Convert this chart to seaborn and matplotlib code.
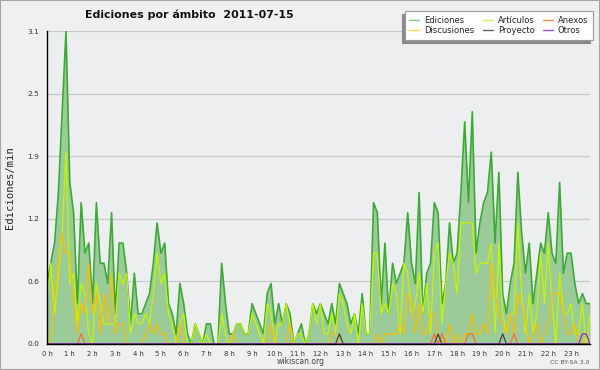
import numpy as np
import pandas as pd
import matplotlib
matplotlib.use("Agg")
import matplotlib.pyplot as plt
from matplotlib.lines import Line2D
from matplotlib.patches import Rectangle
import seaborn as sns

# ---- data (edits per minute, 10-minute buckets, 2011-07-15) ----
tiempo_min = list(range(0, 1440, 10))
hour_labels = [f"{h} h" for h in range(24)]
ytick_vals = [0.0, 0.62, 1.24, 1.86, 2.48, 3.1]
ytick_labels = ["0.0", "0.6", "1.2", "1.9", "2.5", "3.1"]

ediciones = [
    0.6, 0.8, 1.0, 1.5, 2.3, 3.1, 1.6, 1.3, 0.4, 1.4, 0.9, 1.0, 0.4, 1.4, 0.8, 0.8, 0.6, 1.3, 0.3, 1.0,
    1.0, 0.7, 0.2, 0.7, 0.3, 0.3, 0.4, 0.5, 0.8, 1.2, 0.9, 1.0, 0.4, 0.3, 0.1, 0.6, 0.4, 0.1, 0.0, 0.2,
    0.1, 0.0, 0.2, 0.2, 0.0, 0.0, 0.8, 0.4, 0.1, 0.1, 0.2, 0.2, 0.1, 0.1, 0.4, 0.3, 0.2, 0.1, 0.5, 0.6,
    0.2, 0.4, 0.2, 0.4, 0.3, 0.0, 0.1, 0.2, 0.0, 0.1, 0.4, 0.3, 0.4, 0.3, 0.2, 0.4, 0.2, 0.6, 0.5, 0.4,
    0.2, 0.3, 0.1, 0.5, 0.1, 0.1, 1.4, 1.3, 0.4, 1.0, 0.3, 0.8, 0.6, 0.7, 0.8, 1.3, 0.8, 0.6, 1.5, 0.3,
    0.7, 0.8, 1.4, 1.3, 0.4, 0.6, 1.2, 0.8, 0.9, 1.5, 2.2, 1.4, 2.3, 0.9, 1.2, 1.4, 1.5, 1.9, 1.0, 1.7,
    0.5, 0.3, 0.6, 0.8, 1.7, 1.1, 0.7, 1.0, 0.4, 0.7, 1.0, 0.9, 1.3, 0.9, 0.8, 1.6, 0.7, 0.9, 0.9, 0.6,
    0.4, 0.5, 0.4, 0.4,
]
articulos = [
    0.4, 0.8, 0.3, 0.7, 1.1, 1.9, 0.6, 0.7, 0.2, 0.6, 0.5, 0.1, 0.0, 0.6, 0.4, 0.2, 0.2, 0.2, 0.2, 0.7,
    0.6, 0.7, 0.1, 0.3, 0.2, 0.2, 0.3, 0.2, 0.5, 0.9, 0.6, 0.7, 0.3, 0.2, 0.0, 0.2, 0.3, 0.0, 0.0, 0.2,
    0.1, 0.0, 0.1, 0.0, 0.0, 0.0, 0.3, 0.1, 0.0, 0.1, 0.2, 0.2, 0.1, 0.1, 0.3, 0.2, 0.1, 0.0, 0.4, 0.3,
    0.0, 0.2, 0.2, 0.4, 0.2, 0.0, 0.1, 0.1, 0.0, 0.1, 0.4, 0.2, 0.4, 0.1, 0.1, 0.3, 0.1, 0.5, 0.4, 0.2,
    0.1, 0.3, 0.0, 0.4, 0.1, 0.1, 0.9, 0.9, 0.3, 0.4, 0.3, 0.6, 0.5, 0.1, 0.8, 0.7, 0.3, 0.4, 0.7, 0.3,
    0.6, 0.1, 0.9, 1.0, 0.2, 0.6, 0.9, 0.8, 0.5, 1.2, 1.2, 1.2, 1.2, 0.7, 0.8, 0.8, 0.8, 1.0, 0.1, 1.0,
    0.3, 0.1, 0.3, 0.3, 1.2, 0.5, 0.1, 0.5, 0.1, 0.3, 0.9, 0.4, 1.0, 0.4, 0.0, 0.7, 0.3, 0.3, 0.4, 0.1,
    0.1, 0.4, 0.0, 0.3,
]
discusiones = [
    0.0, 0.0, 0.5, 0.8, 1.1, 0.9, 0.9, 0.4, 0.1, 0.4, 0.3, 0.8, 0.3, 0.5, 0.1, 0.5, 0.2, 0.7, 0.1, 0.2,
    0.2, 0.0, 0.0, 0.0, 0.0, 0.0, 0.1, 0.2, 0.1, 0.2, 0.1, 0.1, 0.0, 0.0, 0.0, 0.2, 0.0, 0.0, 0.0, 0.0,
    0.0, 0.0, 0.0, 0.0, 0.0, 0.0, 0.0, 0.0, 0.0, 0.1, 0.0, 0.0, 0.0, 0.0, 0.0, 0.0, 0.0, 0.0, 0.0, 0.2,
    0.0, 0.0, 0.0, 0.0, 0.2, 0.0, 0.0, 0.0, 0.0, 0.0, 0.0, 0.0, 0.0, 0.0, 0.0, 0.1, 0.1, 0.0, 0.0, 0.0,
    0.0, 0.0, 0.0, 0.0, 0.0, 0.0, 0.0, 0.1, 0.0, 0.1, 0.1, 0.1, 0.1, 0.2, 0.1, 0.5, 0.4, 0.1, 0.4, 0.1,
    0.1, 0.3, 0.3, 0.1, 0.0, 0.0, 0.2, 0.0, 0.1, 0.0, 0.1, 0.1, 0.3, 0.1, 0.1, 0.2, 0.1, 0.8, 0.5, 0.3,
    0.2, 0.1, 0.3, 0.1, 0.5, 0.4, 0.2, 0.0, 0.1, 0.2, 0.0, 0.1, 0.2, 0.5, 0.5, 0.5, 0.3, 0.1, 0.1, 0.2,
    0.0, 0.0, 0.1, 0.0,
]
anexos = [
    0.0, 0.0, 0.0, 0.0, 0.0, 0.0, 0.0, 0.0, 0.0, 0.1, 0.0, 0.0, 0.0, 0.0, 0.0, 0.0, 0.0, 0.0, 0.0, 0.0,
    0.0, 0.0, 0.0, 0.0, 0.0, 0.0, 0.0, 0.0, 0.0, 0.0, 0.0, 0.0, 0.0, 0.0, 0.0, 0.0, 0.0, 0.0, 0.0, 0.0,
    0.0, 0.0, 0.0, 0.0, 0.0, 0.0, 0.0, 0.0, 0.0, 0.0, 0.0, 0.0, 0.0, 0.0, 0.0, 0.0, 0.0, 0.0, 0.0, 0.0,
    0.0, 0.0, 0.0, 0.0, 0.0, 0.0, 0.0, 0.0, 0.0, 0.0, 0.0, 0.0, 0.0, 0.0, 0.0, 0.0, 0.0, 0.0, 0.0, 0.0,
    0.0, 0.0, 0.0, 0.0, 0.0, 0.0, 0.0, 0.0, 0.0, 0.0, 0.0, 0.0, 0.0, 0.0, 0.0, 0.0, 0.0, 0.0, 0.0, 0.0,
    0.0, 0.0, 0.1, 0.0, 0.1, 0.0, 0.0, 0.0, 0.0, 0.0, 0.0, 0.1, 0.1, 0.0, 0.0, 0.0, 0.0, 0.0, 0.0, 0.0,
    0.0, 0.0, 0.0, 0.1, 0.0, 0.0, 0.0, 0.0, 0.0, 0.0, 0.0, 0.0, 0.0, 0.0, 0.0, 0.0, 0.0, 0.0, 0.0, 0.0,
    0.0, 0.0, 0.0, 0.0,
]
proyecto = [
    0.0, 0.0, 0.0, 0.0, 0.0, 0.0, 0.0, 0.0, 0.0, 0.0, 0.0, 0.0, 0.0, 0.0, 0.0, 0.0, 0.0, 0.0, 0.0, 0.0,
    0.0, 0.0, 0.0, 0.0, 0.0, 0.0, 0.0, 0.0, 0.0, 0.0, 0.0, 0.0, 0.0, 0.0, 0.0, 0.0, 0.0, 0.0, 0.0, 0.0,
    0.0, 0.0, 0.0, 0.0, 0.0, 0.0, 0.0, 0.0, 0.0, 0.0, 0.0, 0.0, 0.0, 0.0, 0.0, 0.0, 0.0, 0.0, 0.0, 0.0,
    0.0, 0.0, 0.0, 0.0, 0.0, 0.0, 0.0, 0.0, 0.0, 0.0, 0.0, 0.0, 0.0, 0.0, 0.0, 0.0, 0.0, 0.1, 0.0, 0.0,
    0.0, 0.0, 0.0, 0.0, 0.0, 0.0, 0.0, 0.0, 0.0, 0.0, 0.0, 0.0, 0.0, 0.0, 0.0, 0.0, 0.0, 0.0, 0.0, 0.0,
    0.0, 0.0, 0.0, 0.1, 0.0, 0.0, 0.0, 0.0, 0.0, 0.0, 0.0, 0.0, 0.0, 0.0, 0.0, 0.0, 0.0, 0.0, 0.0, 0.0,
    0.1, 0.0, 0.0, 0.0, 0.0, 0.0, 0.0, 0.0, 0.0, 0.0, 0.0, 0.0, 0.0, 0.0, 0.0, 0.0, 0.0, 0.0, 0.0, 0.0,
    0.0, 0.0, 0.0, 0.0,
]
otros = [
    0.0, 0.0, 0.0, 0.0, 0.0, 0.0, 0.0, 0.0, 0.0, 0.0, 0.0, 0.0, 0.0, 0.0, 0.0, 0.0, 0.0, 0.0, 0.0, 0.0,
    0.0, 0.0, 0.0, 0.0, 0.0, 0.0, 0.0, 0.0, 0.0, 0.0, 0.0, 0.0, 0.0, 0.0, 0.0, 0.0, 0.0, 0.0, 0.0, 0.0,
    0.0, 0.0, 0.0, 0.0, 0.0, 0.0, 0.0, 0.0, 0.0, 0.0, 0.0, 0.0, 0.0, 0.0, 0.0, 0.0, 0.0, 0.0, 0.0, 0.0,
    0.0, 0.0, 0.0, 0.0, 0.0, 0.0, 0.0, 0.0, 0.0, 0.0, 0.0, 0.0, 0.0, 0.0, 0.0, 0.0, 0.0, 0.0, 0.0, 0.0,
    0.0, 0.0, 0.0, 0.0, 0.0, 0.0, 0.0, 0.0, 0.0, 0.0, 0.0, 0.0, 0.0, 0.0, 0.0, 0.0, 0.0, 0.0, 0.0, 0.0,
    0.0, 0.0, 0.0, 0.0, 0.0, 0.0, 0.0, 0.0, 0.0, 0.0, 0.0, 0.0, 0.0, 0.0, 0.0, 0.0, 0.0, 0.0, 0.0, 0.0,
    0.0, 0.0, 0.0, 0.0, 0.0, 0.0, 0.0, 0.0, 0.0, 0.0, 0.0, 0.0, 0.0, 0.0, 0.0, 0.0, 0.0, 0.0, 0.0, 0.0,
    0.0, 0.1, 0.1, 0.0,
]

series = {
    "Ediciones": ediciones,
    "Artículos": articulos,
    "Anexos": anexos,
    "Discusiones": discusiones,
    "Proyecto": proyecto,
    "Otros": otros,
}
colors = {
    "Ediciones": "#3daa35",
    "Artículos": "#c4f500",
    "Anexos": "#ff6a28",
    "Discusiones": "#f7c000",
    "Proyecto": "#444444",
    "Otros": "#8a2be2",
}
legend_colors = {
    "Ediciones": "#88c888",
    "Artículos": "#d4f060",
    "Anexos": "#ff8a55",
    "Discusiones": "#ffd850",
    "Proyecto": "#606060",
    "Otros": "#9a50ee",
}

df = pd.DataFrame({"t": np.array(tiempo_min) / 60.0})
for k, v in series.items():
    df[k] = v
long = df.melt(id_vars="t", var_name="serie", value_name="v")

# ---- figure ----
sns.set_style("white")
plt.rcParams["font.family"] = ["DejaVu Sans"]

W, H = 600, 370
fig = plt.figure(figsize=(6, 3.7), dpi=100, facecolor="#f0f0f0")
x0, x1, y0, y1 = 47, 590, 31, 344
ax = fig.add_axes([x0 / W, 1 - y1 / H, (x1 - x0) / W, (y1 - y0) / H])
ax.set_facecolor("#eceef0")

# area under Ediciones
ax.fill_between(df["t"], 0, df["Ediciones"], color="#9ccb9a", lw=0, zorder=2)

draw_order = ["Ediciones", "Artículos", "Discusiones", "Anexos", "Proyecto", "Otros"]
for z, name in enumerate(draw_order):
    sub = long[long["serie"] == name]
    if name != "Ediciones" and sub["v"].max() == 0:
        continue
    sns.lineplot(data=sub, x="t", y="v", ax=ax, color=colors[name],
                 lw=1.2 if name == "Ediciones" else 0.9, zorder=3 + z,
                 legend=False, estimator=None)

ax.set_xlim(0, tiempo_min[-1] / 60.0)
ax.set_ylim(0, 3.1)
ax.set_xlabel("")
ax.set_ylabel("")

ax.set_xticks(range(24))
ax.set_xticklabels(hour_labels)
ax.set_xticks(np.array(tiempo_min) / 60.0, minor=True)
ax.set_yticks(ytick_vals)
ax.set_yticklabels(ytick_labels)
ax.set_yticks(np.arange(0, 3.1001, 0.155), minor=True)

ax.tick_params(axis="x", which="major", length=4, width=0.8, pad=1.0,
               labelsize=4.9, colors="black", direction="out")
ax.tick_params(axis="x", which="minor", length=3, width=0.8, direction="out")
ax.tick_params(axis="y", which="major", length=5, width=0.8, pad=0.8,
               labelsize=5.3, colors="black", direction="out")
ax.tick_params(axis="y", which="minor", length=3, width=0.8, direction="out")
for lab in ax.get_yticklabels() + ax.get_xticklabels():
    lab.set_color("#333333")

ax.yaxis.grid(True, which="major", color="#c9c9c9", lw=0.9, zorder=1)
ax.xaxis.grid(False)
ax.set_axisbelow(True)
for s in ["top", "right"]:
    ax.spines[s].set_visible(False)
for s in ["left", "bottom"]:
    ax.spines[s].set_color("black")
    ax.spines[s].set_linewidth(1.0)
    ax.spines[s].set_zorder(10)

# texts
fig.text(85 / W, 1 - 18.5 / H, "Ediciones por ámbito  2011-07-15", ha="left",
         va="baseline", fontsize=7.9, fontweight="bold", color="#111111")
fig.text(10 / W, 1 - 187.5 / H, "Ediciones/min", rotation=90, ha="center",
         va="center", fontsize=7.6, family=["DejaVu Sans Mono"], color="#222222")
fig.text(300.5 / W, 1 - 361.5 / H, "wikiscan.org", ha="center", va="center",
         fontsize=5.5, color="#444444")
fig.text(589 / W, 1 - 362.5 / H, "CC BY-SA 3.0", ha="right", va="center",
         fontsize=4.4, color="#555555")

# legend
leg_order = ["Ediciones", "Discusiones", "Artículos", "Proyecto", "Anexos", "Otros"]
handles = [Line2D([0], [0], color=legend_colors[n], lw=1.0) for n in leg_order]
leg = fig.legend(handles, leg_order, ncol=3, loc="upper right",
                 bbox_to_anchor=(593 / W, 1 - 11 / H), bbox_transform=fig.transFigure,
                 borderaxespad=0, fontsize=6, frameon=True, fancybox=False,
                 handlelength=1.2, handletextpad=0.6, columnspacing=1.0,
                 labelspacing=0.2, borderpad=0.55,
                 shadow={"ox": -2.2, "oy": -2.2, "color": "#8a8a8a", "alpha": 1.0})
leg.get_frame().set_facecolor("white")
leg.get_frame().set_edgecolor("#9a9a9a")
leg.get_frame().set_linewidth(0.8)
for t in leg.get_texts():
    t.set_color("#222222")

# outer border
fig.patches.append(Rectangle((0, 0), 1, 1, transform=fig.transFigure, fill=False,
                             edgecolor="#a8a8a8", lw=1.5, zorder=100))

fig.savefig("out.png", dpi=100, facecolor=fig.get_facecolor())
